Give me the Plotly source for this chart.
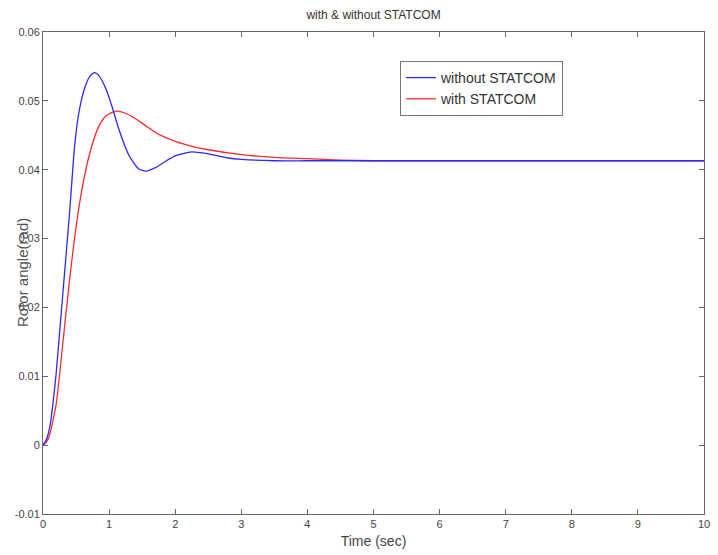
import plotly.graph_objects as go

time_without = [0, 0.05, 0.1, 0.15, 0.2, 0.3, 0.4, 0.48, 0.55, 0.65, 0.72, 0.78, 0.85, 0.95, 1.05, 1.15, 1.3, 1.45, 1.56, 1.7, 1.85, 2.0, 2.25, 2.5, 2.8, 3.0, 3.5, 4, 5, 6, 7, 8, 9, 10]
rotor_without = [0, 0.0008, 0.0025, 0.006, 0.0105, 0.022, 0.0335, 0.0436, 0.0487, 0.0524, 0.0537, 0.0541, 0.0536, 0.0518, 0.0490, 0.0458, 0.0421, 0.0401, 0.0398, 0.0403, 0.0412, 0.0420, 0.0426, 0.0423, 0.0417, 0.0415, 0.0413, 0.0413, 0.0413, 0.0413, 0.0413, 0.0413, 0.0413, 0.0413]

time_with = [0, 0.05, 0.1, 0.2, 0.3, 0.4, 0.5, 0.6, 0.7, 0.83, 0.95, 1.1, 1.25, 1.4, 1.55, 1.74, 2.0, 2.25, 2.5, 3.0, 3.5, 4.0, 4.5, 5, 6, 7, 8, 9, 10]
rotor_with = [0, 0.0004, 0.0015, 0.006, 0.0148, 0.0238, 0.0317, 0.0377, 0.0421, 0.046, 0.0478, 0.0485, 0.0482, 0.0474, 0.0464, 0.0452, 0.0441, 0.0434, 0.0429, 0.0422, 0.0418, 0.0416, 0.0414, 0.0413, 0.0413, 0.0413, 0.0413, 0.0413, 0.0413]

x_ticks = [0, 1, 2, 3, 4, 5, 6, 7, 8, 9, 10]
y_ticks = [-0.01, 0, 0.01, 0.02, 0.03, 0.04, 0.05, 0.06]
y_tick_labels = ["-0.01", "0", "0.01", "0.02", "0.03", "0.04", "0.05", "0.06"]

FONT = "Liberation Sans, Arial, sans-serif"

fig = go.Figure()
fig.add_trace(go.Scatter(x=time_with, y=rotor_with, mode="lines", name="with STATCOM",
                         line=dict(color="#ff2a2a", width=1.3, shape="spline", smoothing=0.6),
                         showlegend=False))
fig.add_trace(go.Scatter(x=time_without, y=rotor_without, mode="lines", name="without STATCOM",
                         line=dict(color="#2a2aff", width=1.3, shape="spline", smoothing=0.6)))
fig.add_trace(go.Scatter(x=[None], y=[None], mode="lines", name="with STATCOM",
                         line=dict(color="#ff2a2a", width=1.3)))

axis_common = dict(showline=True, linecolor="#666666", linewidth=1, mirror="ticks",
                   ticks="inside", ticklen=5, tickcolor="#666666", showgrid=False,
                   zeroline=False, automargin=False,
                   tickfont=dict(family=FONT, size=11, color="#444444"))

fig.update_layout(
    width=718, height=555,
    margin=dict(l=43, r=14, t=32, b=41),
    paper_bgcolor="white", plot_bgcolor="white",
    title=dict(text="with & without STATCOM", x=(43 + 704) / 2 / 718, xanchor="center",
               y=1 - 15 / 555, yanchor="middle",
               font=dict(family=FONT, size=12, color="#333333")),
    xaxis=dict(range=[0, 10], tickvals=x_ticks, ticktext=[str(v) for v in x_ticks],
               title=dict(text="Time (sec)", font=dict(family=FONT, size=14, color="#444444"), standoff=6),
               **axis_common),
    yaxis=dict(range=[-0.01, 0.06], tickvals=y_ticks, ticktext=y_tick_labels, **axis_common),
    legend=dict(x=(400 - 43) / 661, y=(514 - 61) / 482, xanchor="left", yanchor="top",
                bordercolor="#777777", borderwidth=1, bgcolor="white",
                font=dict(family=FONT, size=14, color="#333333"),
                tracegroupgap=0, itemwidth=30),
    annotations=[dict(text="Rotor angle(rad)", textangle=-90, xref="paper", yref="paper",
                      x=-21 / 661, y=0.5, xanchor="center", yanchor="middle", showarrow=False,
                      font=dict(family=FONT, size=15, color="#555555"))],
)

fig.write_html("out.html")
